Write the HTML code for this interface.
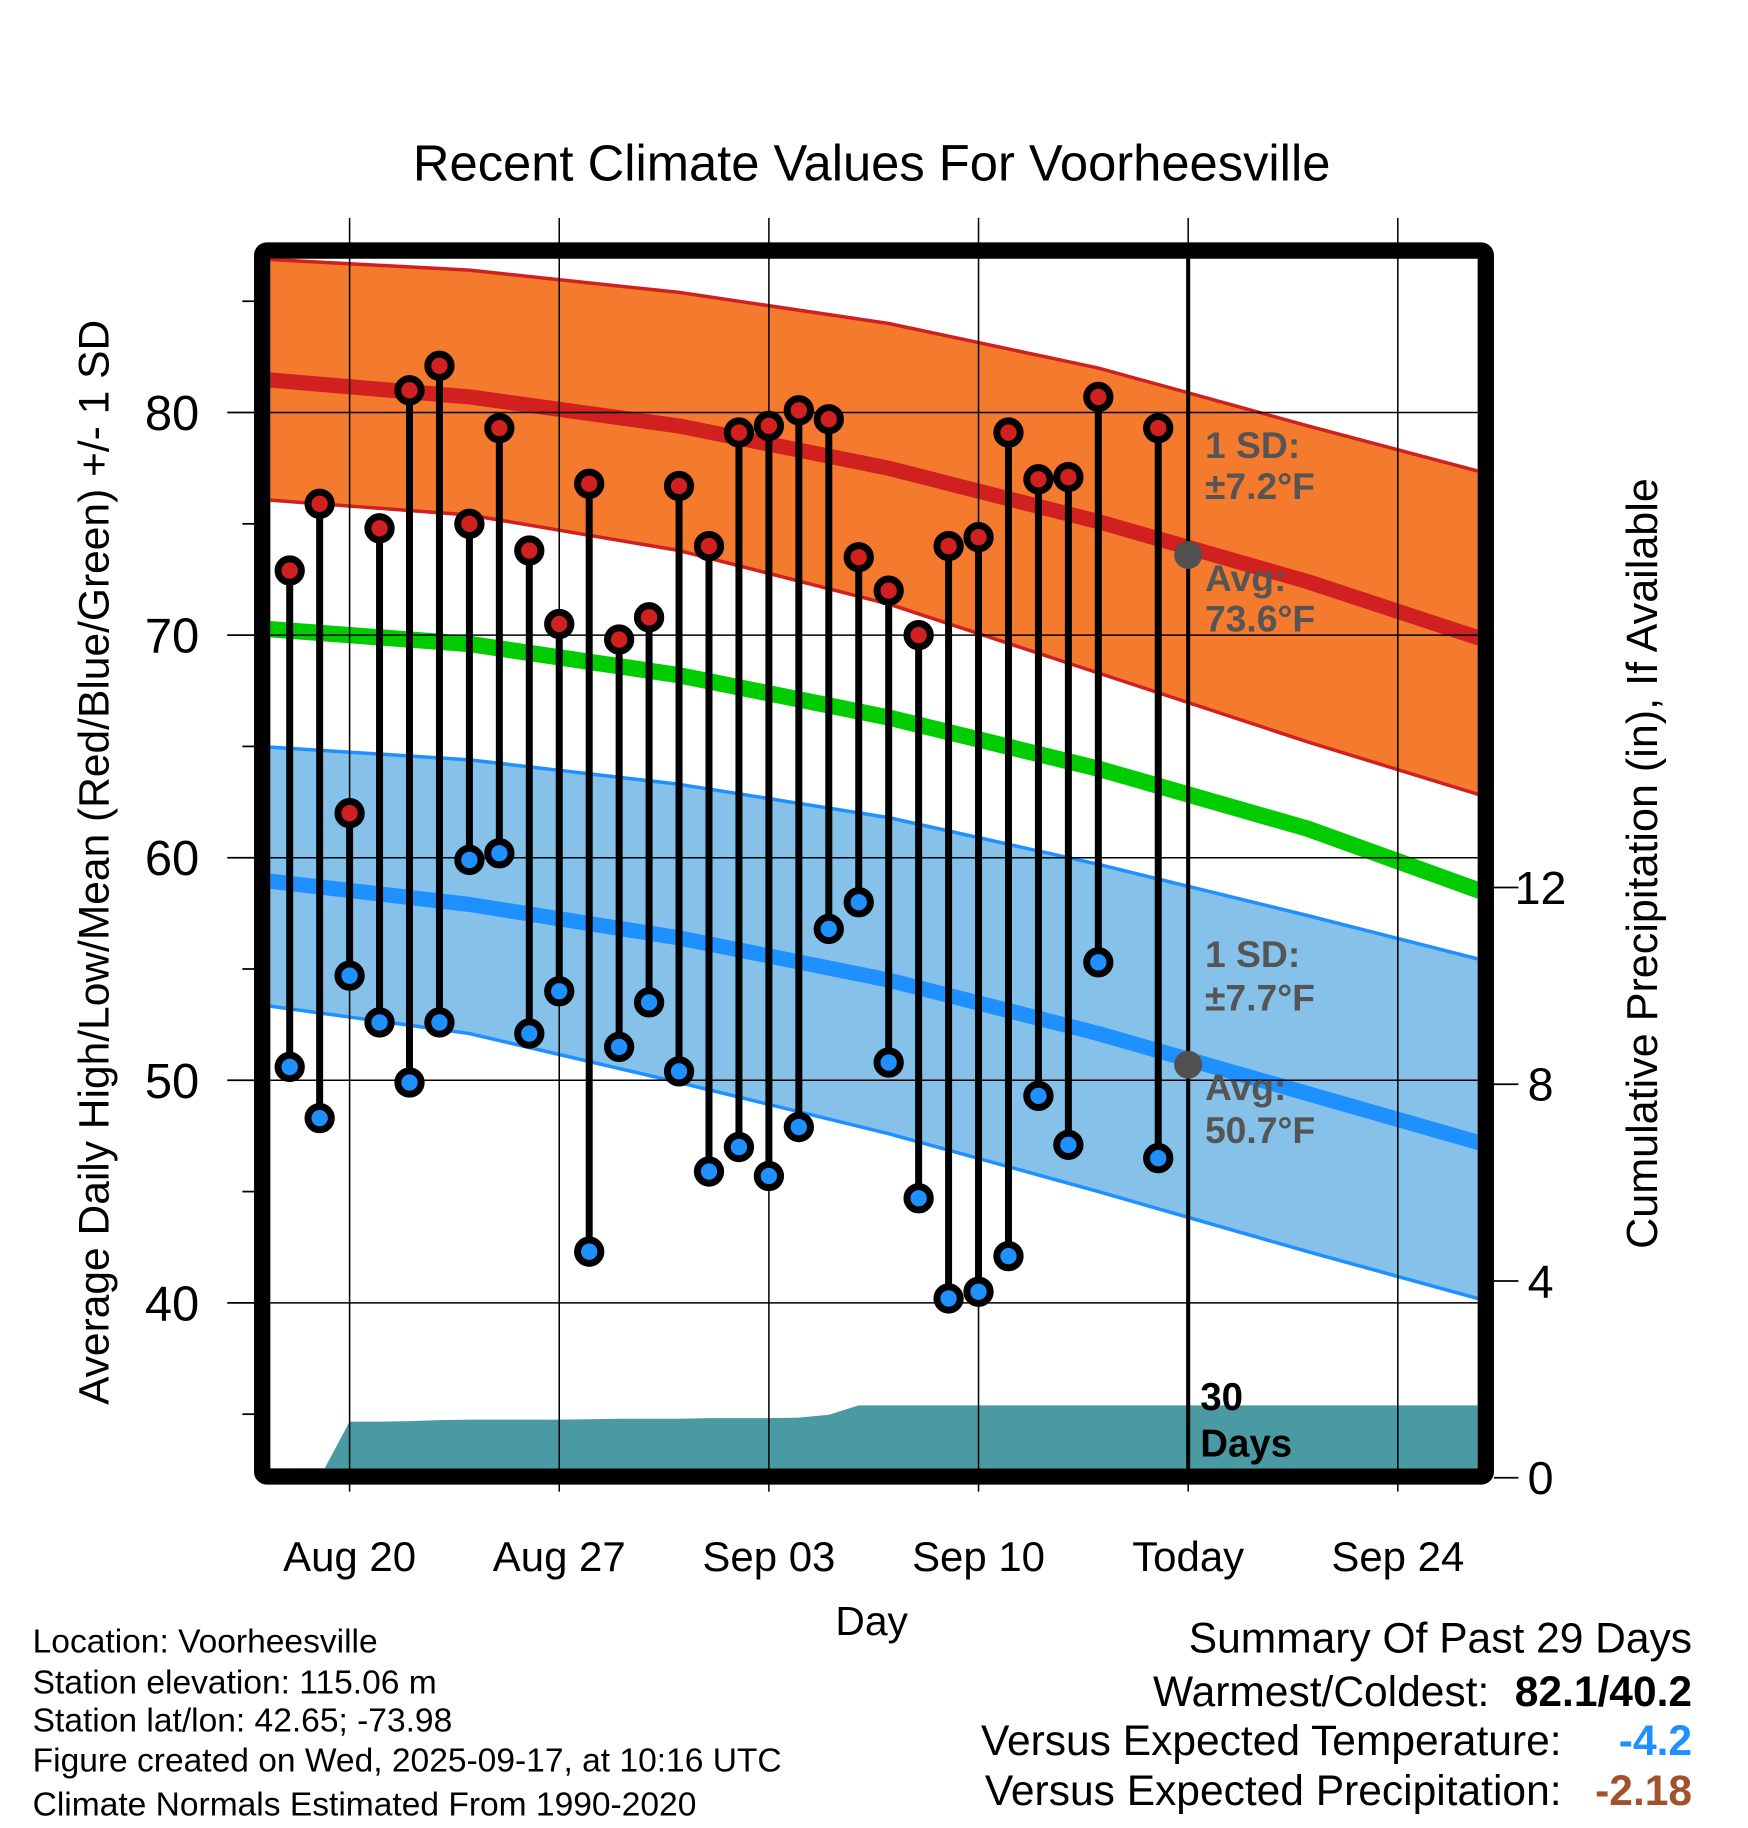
<!DOCTYPE html>
<html><head><meta charset="utf-8"><style>
html,body{margin:0;padding:0;background:#fff}
svg{display:block;font-family:"Liberation Sans",Arial,sans-serif}
</style></head><body>
<svg id="chart" width="1748" height="1828" viewBox="0 0 1500 1568.6" preserveAspectRatio="none" xmlns="http://www.w3.org/2000/svg">
<text x="748" y="155" font-size="43.5" text-anchor="middle">Recent Climate Values For Voorheesville</text>
<g id="plot"></g>
<text transform="translate(93,740) rotate(-90)" font-size="36.5" text-anchor="middle">Average Daily High/Low/Mean (Red/Blue/Green) +/- 1 SD</text>
<text transform="translate(1422,741) rotate(-90)" font-size="37" text-anchor="middle">Cumulative Precipitation (in), If Available</text>
<text x="748" y="1403" font-size="35" text-anchor="middle">Day</text>
<g font-size="28.8">
<text x="28" y="1418">Location: Voorheesville</text>
<text x="28" y="1453">Station elevation: 115.06 m</text>
<text x="28" y="1486">Station lat/lon: 42.65; -73.98</text>
<text x="28" y="1520">Figure created on Wed, 2025-09-17, at 10:16 UTC</text>
<text x="28" y="1558">Climate Normals Estimated From 1990-2020</text>
</g>
<g font-size="36.5" text-anchor="end">
<text x="1452" y="1418">Summary Of Past 29 Days</text>
<text x="1278" y="1464">Warmest/Coldest:</text>
<text x="1452" y="1464" font-weight="bold">82.1/40.2</text>
<text x="1340" y="1506">Versus Expected Temperature:</text>
<text x="1452" y="1506" font-weight="bold" fill="#1e90ff">-4.2</text>
<text x="1340" y="1549">Versus Expected Precipitation:</text>
<text x="1452" y="1549" font-weight="bold" fill="#a0522d">-2.18</text>
</g>
</svg>
<script>
// Observed data (day offsets from Aug 20)
const dayOffsets = [-2,-1,0,1,2,3,4,5,6,7,8,9,10,11,12,13,14,15,16,17,18,19,20,21,22,23,24,25,26,27];
const highs = [72.9,75.9,62.0,74.8,81.0,82.1,75.0,79.3,73.8,70.5,76.8,69.8,70.8,76.7,74.0,79.1,79.4,80.1,79.7,73.5,72.0,70.0,74.0,74.4,79.1,77.0,77.1,80.7,null,79.3];
const lows  = [50.6,48.3,54.7,52.6,49.9,52.6,59.9,60.2,52.1,54.0,42.3,51.5,53.5,50.4,45.9,47.0,45.7,47.9,56.8,58.0,50.8,44.7,40.2,40.5,42.1,49.3,47.1,55.3,null,46.5];
const precip = [0,0,1.14,1.14,1.15,1.17,1.18,1.18,1.18,1.18,1.19,1.20,1.20,1.20,1.21,1.21,1.21,1.22,1.28,1.47,1.47,1.47,1.47,1.47,1.47,1.47,1.47,1.47,1.47,1.47];
// Normals (day offsets from Aug 20)
const normDays = [-3,4,11,18,25,32,39];
const normHigh = [81.5,80.7,79.4,77.5,75.1,72.4,69.3];
const normHighUp = [86.9,86.4,85.4,84.0,82.0,79.4,76.9];
const normHighLo = [76.1,75.4,73.8,71.4,68.3,65.2,62.3];
const normMean = [70.3,69.6,68.2,66.3,64.0,61.3,57.9];
const normLow = [59.0,57.9,56.4,54.5,52.1,49.4,46.7];
const normLowUp = [65.0,64.4,63.3,61.8,59.7,57.4,55.0];
const normLowLo = [53.4,52.1,49.9,47.6,45.0,42.3,39.7];
const xTickLabels = ["Aug 20","Aug 27","Sep 03","Sep 10","Today","Sep 24"];
const xTickDays = [0,7,14,21,28,35];
const yTicks = [40,50,60,70,80];
const y2Ticks = [0,4,8,12];
const todayDay = 28, todayHigh = 73.6, todayLow = 50.7;

const NS="http://www.w3.org/2000/svg";
const L=232,R=1268,T=222,B=1260;
const X=d=>300+d*25.7;
const Y=v=>927-(v-50)*19.1;
const Y2=p=>1268-p*42.2;
const g=document.getElementById('plot');
function mk(tag,attrs,parent){const e=document.createElementNS(NS,tag);for(const k in attrs)e.setAttribute(k,attrs[k]);(parent||g).appendChild(e);return e;}
const defs=mk('defs',{});
const cp=mk('clipPath',{id:'clip'},defs);mk('rect',{x:L,y:T,width:R-L,height:B-T},cp);
const inner=mk('g',{'clip-path':'url(#clip)'});
const pts=(ds,vs,fy)=>ds.map((d,i)=>X(d).toFixed(1)+','+fy(vs[i]).toFixed(1));
function band(up,lo,fill,name){
  const p=pts(normDays,up,Y).concat(pts(normDays,lo,Y).reverse()).join(' ');
  const e=mk('polygon',{points:p,fill:fill},inner);
  
  
}
function line(vs,col,w,name){
  const e=mk('polyline',{points:pts(normDays,vs,Y).join(' '),fill:'none',stroke:col,'stroke-width':w,'stroke-linejoin':'round'},inner);
  
  
}
band(normHighUp,normHighLo,'#f47a2e','high-sd-band');
band(normLowUp,normLowLo,'#85c1e8','low-sd-band');
line(normHighUp,'#d02020',3,'high-sd-upper');
line(normHighLo,'#d02020',3,'high-sd-lower');
line(normLowUp,'#1e90ff',3,'low-sd-upper');
line(normLowLo,'#1e90ff',3,'low-sd-lower');
line(normHigh,'#d02020',13,'avg-high-line');
line(normMean,'#00cc00',14,'avg-mean-line');
line(normLow,'#1e90ff',13,'avg-low-line');
// precip area
let pp=[];pp.push(X(dayOffsets[0])+','+B);
dayOffsets.forEach((d,i)=>pp.push(X(d).toFixed(1)+','+Y2(precip[i]).toFixed(1)));
pp.push(R+','+Y2(precip[precip.length-1]).toFixed(1));pp.push(R+','+B);
const pa=mk('polygon',{points:pp.join(' '),fill:'#4a9aa4'},inner);


// grid
yTicks.forEach(v=>{const e=mk('line',{x1:L,x2:R,y1:Y(v),y2:Y(v),stroke:'#000','stroke-width':1.3});

});
xTickDays.forEach((d,i)=>{const e=mk('line',{x1:X(d),x2:X(d),y1:187,y2:1280,stroke:'#000','stroke-width':1.3});


const t=mk('text',{x:X(d),y:1348,'font-size':36,'text-anchor':'middle'});t.textContent=xTickLabels[i];

});
// today line
const tl=mk('line',{x1:X(todayDay),x2:X(todayDay),y1:T,y2:B,stroke:'#000','stroke-width':3.5});


// stems & markers
dayOffsets.forEach((d,i)=>{
  if(highs[i]==null)return;
  const s=mk('line',{x1:X(d),x2:X(d),y1:Y(highs[i]),y2:Y(lows[i]),stroke:'#000','stroke-width':6});
  
  
});
dayOffsets.forEach((d,i)=>{
  if(highs[i]==null)return;
  const h=mk('circle',{cx:X(d),cy:Y(highs[i]),r:10,fill:'#d02020',stroke:'#000','stroke-width':6});
  
  
  const l=mk('circle',{cx:X(d),cy:Y(lows[i]),r:10,fill:'#1e90ff',stroke:'#000','stroke-width':6});
  
  
});
[todayHigh,todayLow].forEach(v=>{const c=mk('circle',{cx:X(todayDay),cy:Y(v),r:12,fill:'#505050'});

});
// annotations
function txt(x,y,s,fs,col,bold,name){const t=mk('text',{x:x,y:y,'font-size':fs,fill:col,'font-weight':bold?'bold':'normal'});t.textContent=s;

return t;}
txt(1034,393,'1 SD:',32,'#555',1,'high-sd-label');
txt(1034,428,'±7.2°F',32,'#555',1,'high-sd-value');
txt(1034,507,'Avg:',32,'#555',1,'high-avg-label');
txt(1034,542,'73.6°F',32,'#555',1,'high-avg-value');
txt(1034,830,'1 SD:',32,'#555',1,'low-sd-label');
txt(1034,867,'±7.7°F',32,'#555',1,'low-sd-value');
txt(1034,944,'Avg:',32,'#555',1,'low-avg-label');
txt(1034,981,'50.7°F',32,'#555',1,'low-avg-value');
txt(1030,1210,'30',33,'#000',1,'days-label');
txt(1030,1250,'Days',33,'#000',1,'days-label-2');
// frame
const fr=mk('rect',{x:225,y:215,width:1050,height:1052,fill:'none',stroke:'#000','stroke-width':14,rx:4});


// left ticks
for(let v=35;v<=85;v+=5){const major=v%10==0;
 const e=mk('line',{x1:major?195:208,x2:218,y1:Y(v),y2:Y(v),stroke:'#000','stroke-width':1.5});
 
 }
yTicks.forEach(v=>{const t=mk('text',{x:171,y:Y(v)+15,'font-size':42,'text-anchor':'end'});t.textContent=v;

});
y2Ticks.forEach(p=>{const e=mk('line',{x1:1282,x2:1303,y1:Y2(p),y2:Y2(p),stroke:'#000','stroke-width':1.5});


const t=mk('text',{x:1322,y:Y2(p)+14,'font-size':40,'text-anchor':'middle'});t.textContent=p;

});
</script>
</body></html>
